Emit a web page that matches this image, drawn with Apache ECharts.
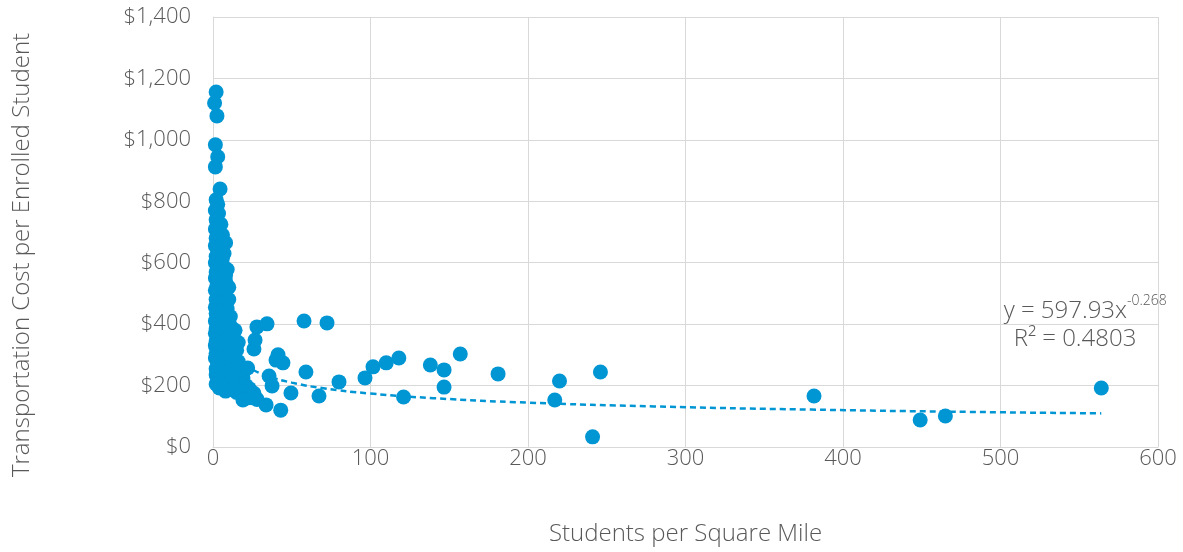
<!DOCTYPE html>
<html>
<head>
<meta charset="utf-8">
<script src="https://cdn.jsdelivr.net/npm/echarts@6/dist/echarts.min.js"></script>
<style>
  html, body { margin: 0; padding: 0; background: #fff; }
  #chart { width: 1183px; height: 552px; }
</style>
</head>
<body>
<div id="chart"></div>
<script>
// students per square mile / transportation cost per enrolled student
var clusterX = [4.5, 2, 3, 1.5, 3.5, 2, 5, 1.5, 3, 6, 2, 4, 8, 1.5, 5, 3, 7, 2, 4, 1.5,
  6, 3, 9, 2, 5, 1.5, 3.5, 7, 2.5, 10, 1.5, 5, 3, 8, 2, 6, 4, 1.5, 9, 3,
  2, 11, 5, 1.5, 7, 3, 9, 2, 12, 4.5, 14, 1.5, 6, 10, 3, 8, 2, 13, 5, 1.5,
  11, 7, 3, 15, 9, 2, 5, 12, 1.5, 4, 8, 16, 3, 10, 6, 2, 13, 4.5, 9, 7,
  18, 2, 11, 5, 15, 3, 8, 13, 2, 6, 10, 17, 4, 12, 20, 8, 15, 24, 19, 22, 28,
  6, 8, 7, 9, 6, 10, 8, 11, 12, 10, 13, 14, 9, 12, 16, 14, 11, 15, 17, 19,
  21, 23, 7, 5, 6, 4, 8, 10, 26, 12, 18, 14, 16, 6, 9];
var clusterY = [840, 805, 790, 770, 760, 740, 725, 710, 700, 690, 680, 670, 665, 655, 650, 640, 630, 620, 610, 600,
  595, 585, 578, 570, 560, 550, 545, 535, 525, 520, 510, 505, 495, 490, 480, 470, 462, 455, 450, 445,
  435, 425, 420, 410, 405, 400, 395, 385, 385, 380, 380, 370, 365, 360, 355, 350, 345, 345, 338, 330,
  330, 325, 320, 315, 310, 305, 300, 298, 290, 285, 280, 278, 272, 270, 262, 255, 255, 248, 242, 240,
  245, 235, 232, 228, 225, 220, 215, 212, 205, 200, 198, 195, 192, 188, 185, 182, 178, 172, 168, 160, 155,
  615, 560, 470, 430, 440, 410, 370, 395, 350, 300, 370, 320, 260, 275, 340, 290, 250, 240, 210, 225,
  200, 190, 195, 215, 660, 520, 540, 480, 175, 230, 205, 190, 265, 385, 355];

var topX = [2, 1, 2.5, 1.5, 3, 1.5];
var topY = [1156, 1120, 1078, 984, 945, 912];

var spreadX = [34.3, 27.9, 26.7, 26, 41.3, 40, 44.4, 59, 35.6, 37.5, 49.5, 67.3, 80, 96.5, 101.6,
  110, 118, 121, 138, 146.7, 146.7, 157, 181, 22, 19, 25.4, 33.7, 43, 57.8, 72.4,
  217, 220, 241, 246, 381.6, 449, 465, 564];
var spreadY = [401, 391, 348, 319, 300, 283, 274, 244, 231, 199, 176, 166, 212, 225, 261,
  274, 290, 163, 267, 251, 195, 303, 238, 257, 153, 160, 137, 120, 410, 404,
  153, 215, 33, 244, 166, 88, 101, 192];

// power trendline shown on the chart: y = 597.93 x^-0.268
var trendA = 597.93;
var trendB = -0.268;
var trendX = [1, 2, 3, 5, 8, 12, 18, 25, 35, 50, 70, 100, 140, 200, 280, 380, 480, 564];

var xTicks = [0, 100, 200, 300, 400, 500, 600];
var yTicks = [0, 200, 400, 600, 800, 1000, 1200, 1400];

function pairs(xs, ys) {
  var out = [];
  for (var i = 0; i < xs.length; i++) out.push([xs[i], ys[i]]);
  return out;
}

var points = pairs(topX, topY).concat(pairs(clusterX, clusterY)).concat(pairs(spreadX, spreadY));
var trend = trendX.map(function (x) { return [x, trendA * Math.pow(x, trendB)]; });

var FONT = '"Open Sans", "Liberation Sans", sans-serif';
var GREY = '#595959';
var BLUE = '#0095d3';

var myChart = echarts.init(document.getElementById('chart'));
myChart.setOption({
  animation: false,
  backgroundColor: '#fff',
  grid: { left: 213, right: 25, top: 17, bottom: 105 },
  xAxis: {
    type: 'value',
    min: xTicks[0],
    max: xTicks[xTicks.length - 1],
    interval: 100,
    name: 'Students per Square Mile',
    nameLocation: 'middle',
    nameGap: 75,
    nameTextStyle: { fontFamily: FONT, fontWeight: 300, fontSize: 24, color: GREY },
    axisLine: { show: true, lineStyle: { color: '#d9d9d9', width: 1 } },
    axisTick: { show: false },
    axisLabel: { fontFamily: FONT, fontWeight: 300, fontSize: 22, color: GREY, margin: 1 },
    splitLine: { show: true, lineStyle: { color: '#d9d9d9', width: 1 } }
  },
  yAxis: {
    type: 'value',
    min: yTicks[0],
    max: yTicks[yTicks.length - 1],
    interval: 200,
    axisLine: { show: true, lineStyle: { color: '#d9d9d9', width: 1 } },
    axisTick: { show: false },
    axisLabel: {
      fontFamily: FONT, fontWeight: 300, fontSize: 22, color: GREY, margin: 22,
      formatter: function (v) { return '$' + v.toLocaleString('en-US'); }
    },
    splitLine: { show: true, lineStyle: { color: '#d9d9d9', width: 1 } }
  },
  graphic: [
    {
      type: 'text', x: 22, y: 255, rotation: Math.PI / 2,
      style: {
        text: 'Transportation Cost per Enrolled Student',
        font: '300 24px ' + FONT, fill: GREY, align: 'center', verticalAlign: 'middle'
      }
    },
    {
      type: 'text', x: 1127, y: 311,
      style: { text: 'y = 597.93x', font: '300 24px ' + FONT, fill: GREY, align: 'right', verticalAlign: 'middle' }
    },
    {
      type: 'text', x: 1127, y: 301,
      style: { text: '-0.268', font: '300 14px ' + FONT, fill: GREY, align: 'left', verticalAlign: 'middle' }
    },
    {
      type: 'text', x: 1075, y: 339,
      style: { text: 'R\u00b2 = 0.4803', font: '300 24px ' + FONT, fill: GREY, align: 'center', verticalAlign: 'middle' }
    }
  ],
  series: [
    {
      name: 'cost',
      type: 'scatter',
      symbolSize: 15,
      itemStyle: { color: BLUE, opacity: 1 },
      data: points,
      z: 2
    },
    {
      name: 'trend',
      type: 'line',
      smooth: true,
      showSymbol: false,
      lineStyle: { color: BLUE, width: 2.5, type: [6, 4] },
      data: trend,
      z: 1
    }
  ]
});
</script>
</body>
</html>
